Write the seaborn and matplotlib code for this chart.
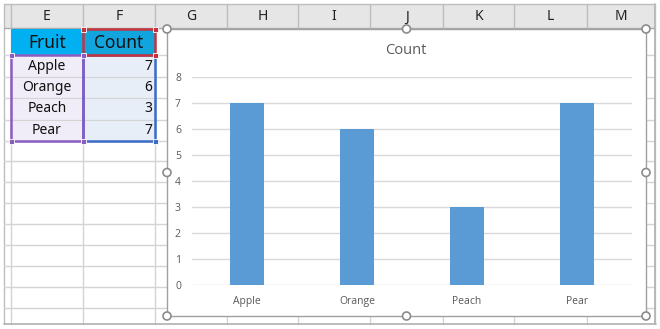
import matplotlib
matplotlib.use("Agg")
import matplotlib.pyplot as plt
import seaborn as sns
import pandas as pd
from matplotlib.patches import Rectangle, Circle

# ---- data ----
fruits = ["Apple", "Orange", "Peach", "Pear"]
counts = [7, 6, 3, 7]
col_letters = ["E", "F", "G", "H", "I", "J", "K", "L", "M"]
yticks = [0, 1, 2, 3, 4, 5, 6, 7, 8]
chart_title = "Count"
table_headers = ["Fruit", "Count"]

sns.set_theme(style="white")
plt.rcParams['font.family'] = ['Open Sans', 'DejaVu Sans']

W, H = 660, 329
fig = plt.figure(figsize=(W / 100, H / 100), dpi=100)
bg = fig.add_axes([0, 0, 1, 1])
bg.set_xlim(0, W)
bg.set_ylim(H, 0)
bg.axis("off")

grid_c = "#d4d4d4"
col_edges = [11, 83, 155, 227, 298, 370, 443, 514, 587, 655]
row_edges = [55, 77, 98, 120, 141, 161, 182, 203, 224, 245, 266, 287, 308]

# column header band
bg.add_patch(Rectangle((4, 4), 651, 24, facecolor="#e6e6e6", edgecolor="none", zorder=1))
bg.plot([4, 655], [4, 4], color="#bdbdbd", lw=1, zorder=2)
bg.plot([4, 655], [28, 28], color="#ababab", lw=1, zorder=2)
for x in col_edges:
    bg.plot([x, x], [4, 28], color="#bdbdbd", lw=1, zorder=2)
for i, L in enumerate(col_letters):
    cx = (col_edges[i] + col_edges[i + 1]) / 2
    bg.text(cx, 17, L, ha="center", va="center", fontsize=10, color="#222222",
            family=["Noto Sans", "DejaVu Sans"], zorder=3)

# grid lines
for x in col_edges:
    bg.plot([x, x], [28, 324], color=grid_c, lw=1, zorder=1)
bg.plot([4, 4], [4, 324], color="#bdbdbd", lw=1, zorder=1)
for y in row_edges:
    bg.plot([4, 655], [y, y], color=grid_c, lw=1, zorder=1)
bg.plot([4, 656], [324, 324], color="#b0b0b0", lw=1.2, zorder=1)
bg.plot([655, 655], [4, 324], color="#b0b0b0", lw=1.2, zorder=1)

# table headers
bg.add_patch(Rectangle((11, 29), 72, 26, facecolor="#00b0f0", edgecolor="none", zorder=2))
bg.add_patch(Rectangle((83, 29), 72, 26, facecolor="#12a4dc", edgecolor="none", zorder=2))
tfam = ["Noto Sans", "DejaVu Sans"]
bg.text(47, 43, table_headers[0], ha="center", va="center", fontsize=12.5, color="#111111", family=tfam, zorder=4)
bg.text(119, 43, table_headers[1], ha="center", va="center", fontsize=12.5, color="#111111", family=tfam, zorder=4)

# table data
for i, (f, c) in enumerate(zip(fruits, counts)):
    y0, y1 = row_edges[i], row_edges[i + 1]
    bg.add_patch(Rectangle((11, y0), 72, y1 - y0, facecolor="#f1edf8", edgecolor=grid_c, lw=0.8, zorder=2))
    bg.add_patch(Rectangle((83, y0), 72, y1 - y0, facecolor="#e8eef8", edgecolor=grid_c, lw=0.8, zorder=2))
    cy = (y0 + y1) / 2
    bg.text(47, cy, f, ha="center", va="center", fontsize=10, color="#111111", family=tfam, zorder=4)
    bg.text(152, cy, str(c), ha="right", va="center", fontsize=10, color="#111111", family=tfam, zorder=4)

# selection borders
purple, red, blue = "#8a5cc2", "#c4343c", "#3a6cc6"
bg.add_patch(Rectangle((83, 55), 72, 86, facecolor="none", edgecolor=blue, lw=1.8, zorder=5))
bg.add_patch(Rectangle((11, 55), 72, 86, facecolor="none", edgecolor=purple, lw=1.8, zorder=6))
bg.add_patch(Rectangle((83, 29), 72, 26, facecolor="none", edgecolor=red, lw=1.8, zorder=6))
for (x, y, c) in [(11, 55, purple), (83, 55, purple), (11, 141, purple), (83, 141, purple),
                  (83, 29, red), (155, 29, red), (155, 55, red), (155, 141, blue)]:
    bg.add_patch(Rectangle((x - 2.5, y - 2.5), 5, 5, facecolor=c, edgecolor="white", lw=0.6, zorder=7))

# chart area
cx0, cy0, cx1, cy1 = 167, 29, 646, 316
bg.add_patch(Rectangle((cx0, cy0), cx1 - cx0, cy1 - cy0, facecolor="white", edgecolor="#a0a0a0", lw=1.0, zorder=8))
midx, midy = (cx0 + cx1) / 2, (cy0 + cy1) / 2
for (x, y) in [(cx0, cy0), (midx, cy0), (cx1, cy0), (cx0, midy), (cx1, midy),
               (cx0, cy1), (midx, cy1), (cx1, cy1)]:
    bg.add_patch(Circle((x, y), 4, facecolor="white", edgecolor="#8c8c8c", lw=1.2, zorder=9))
bg.text(406, 50, chart_title, ha="center", va="center", fontsize=10.5, color="#595959", zorder=10)

# plot axes
px0, px1, py0, py8 = 192, 632, 285, 77
ax = fig.add_axes([px0 / W, (H - py0) / H, (px1 - px0) / W, (py0 - py8) / H])
ax.set_facecolor("none")
df = pd.DataFrame({"Fruit": fruits, "Count": counts})
sns.barplot(data=df, x="Fruit", y="Count", color="#5b9bd5", width=0.31, saturation=1,
            linewidth=0, edgecolor="none", ax=ax, zorder=3)
ax.set_xlim(-0.5, len(fruits) - 0.5)
ax.set_ylim(0, 8)
ax.set_yticks(yticks)
ax.set_xlabel("")
ax.set_ylabel("")
for y in yticks:
    ax.axhline(y, color="#d9d9d9", lw=1, zorder=1)
for s in ax.spines.values():
    s.set_visible(False)
ax.tick_params(axis="both", length=0, labelsize=7.5, labelcolor="#595959")
ax.tick_params(axis="y", pad=8)
ax.tick_params(axis="x", pad=8)

fig.savefig("out.png", dpi=100)
